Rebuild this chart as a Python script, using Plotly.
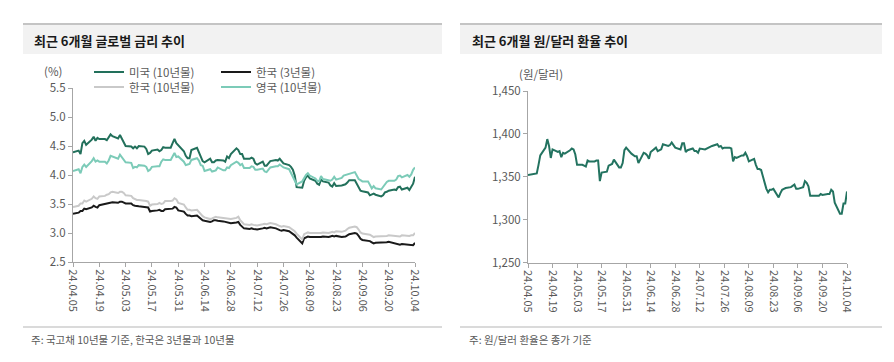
import pandas as pd
import plotly.graph_objects as go

W, H = 894, 362

# ---------------- data ----------------
dates = pd.bdate_range("2024-04-05", "2024-10-04")

tick_labels = ["24.04.05", "24.04.19", "24.05.03", "24.05.17", "24.05.31", "24.06.14", "24.06.28",
               "24.07.12", "24.07.26", "24.08.09", "24.08.23", "24.09.06", "24.09.20", "24.10.04"]

us_10y = [4.39,
          4.42, 4.36, 4.55, 4.59, 4.52,
          4.61, 4.66, 4.59, 4.64, 4.62,
          4.62, 4.60, 4.65, 4.70, 4.67,
          4.63, 4.69, 4.63, 4.58, 4.50,
          4.49, 4.46, 4.49, 4.46, 4.50,
          4.49, 4.45, 4.36, 4.38, 4.42,
          4.44, 4.41, 4.43, 4.48, 4.47,
          4.47, 4.55, 4.62, 4.55, 4.51,
          4.41, 4.33, 4.29, 4.29, 4.43,
          4.47, 4.40, 4.31, 4.24, 4.22,
          4.28, 4.22, 4.22, 4.25, 4.26,
          4.25, 4.23, 4.32, 4.29, 4.36,
          4.46, 4.43, 4.36, 4.36, 4.28,
          4.28, 4.30, 4.28, 4.20, 4.18,
          4.23, 4.16, 4.16, 4.20, 4.24,
          4.26, 4.25, 4.28, 4.24, 4.20,
          4.17, 4.14, 4.09, 3.99, 3.79,
          3.78, 3.90, 3.96, 3.99, 3.94,
          3.90, 3.85, 3.83, 3.92, 3.89,
          3.87, 3.82, 3.80, 3.86, 3.81,
          3.82, 3.83, 3.84, 3.87, 3.91,
          3.91, 3.84, 3.77, 3.73, 3.72,
          3.70, 3.65, 3.66, 3.68, 3.66,
          3.63, 3.65, 3.70, 3.71, 3.73,
          3.75, 3.74, 3.79, 3.80, 3.75,
          3.78, 3.74, 3.79, 3.85, 3.97]

kr_3y = [3.33,
         3.35, 3.38, 3.38, 3.42, 3.41,
         3.44, 3.47, 3.45, 3.44, 3.48,
         3.50, 3.51, 3.52, 3.53, 3.53,
         3.52, 3.54, 3.54, 3.53, 3.51,
         3.51, 3.48, 3.47, 3.46, 3.46,
         3.45, 3.44, 3.44, 3.37, 3.38,
         3.39, 3.40, 3.38, 3.38, 3.41,
         3.41, 3.42, 3.45, 3.44, 3.39,
         3.37, 3.33, 3.30, 3.30, 3.29,
         3.30, 3.27, 3.25, 3.22, 3.21,
         3.19, 3.20, 3.22, 3.22, 3.21,
         3.20, 3.19, 3.19, 3.18, 3.17,
         3.18, 3.19, 3.14, 3.11, 3.08,
         3.07, 3.08, 3.07, 3.07, 3.06,
         3.08, 3.09, 3.08, 3.09, 3.10,
         3.08, 3.06, 3.05, 3.04, 3.05,
         3.03, 3.01, 2.99, 2.96, 2.92,
         2.82, 2.91, 2.93, 2.94, 2.93,
         2.93, 2.92, 2.93, 2.93, 2.94,
         2.93, 2.94, 2.95, 2.94, 2.95,
         2.93, 2.93, 2.94, 2.96, 2.98,
         3.00, 2.99, 2.95, 2.90, 2.88,
         2.87, 2.86, 2.84, 2.82, 2.83,
         2.83, 2.83, 2.83, 2.84, 2.85,
         2.83, 2.82, 2.81, 2.80, 2.81,
         2.80, 2.80, 2.79, 2.79, 2.83]

kr_10y = [3.45,
          3.47, 3.51, 3.51, 3.56, 3.54,
          3.59, 3.63, 3.60, 3.59, 3.63,
          3.64, 3.66, 3.67, 3.70, 3.71,
          3.69, 3.71, 3.71, 3.69, 3.65,
          3.64, 3.60, 3.58, 3.57, 3.57,
          3.56, 3.55, 3.54, 3.47, 3.49,
          3.50, 3.52, 3.50, 3.51, 3.55,
          3.55, 3.56, 3.60, 3.58, 3.52,
          3.49, 3.44, 3.40, 3.40, 3.39,
          3.40, 3.36, 3.33, 3.29, 3.27,
          3.24, 3.25, 3.27, 3.28, 3.27,
          3.26, 3.25, 3.25, 3.24, 3.24,
          3.26, 3.28, 3.22, 3.18, 3.15,
          3.14, 3.15, 3.14, 3.14, 3.13,
          3.15, 3.16, 3.15, 3.16, 3.17,
          3.15, 3.13, 3.12, 3.11, 3.12,
          3.10, 3.08, 3.06, 3.03, 2.99,
          2.89, 2.98, 3.00, 3.01, 3.00,
          3.00, 2.99, 3.00, 3.00, 3.01,
          3.00, 3.01, 3.02, 3.01, 3.03,
          3.02, 3.03, 3.04, 3.07, 3.09,
          3.11, 3.10, 3.06, 3.01, 2.99,
          2.98, 2.97, 2.95, 2.93, 2.94,
          2.94, 2.94, 2.94, 2.95, 2.96,
          2.95, 2.95, 2.95, 2.94, 2.96,
          2.95, 2.95, 2.96, 2.96, 3.00]

uk_10y = [4.07,
          4.10, 4.03, 4.14, 4.18, 4.14,
          4.24, 4.29, 4.23, 4.25, 4.23,
          4.23, 4.20, 4.25, 4.33, 4.32,
          4.28, 4.35, 4.31, 4.26, 4.22,
          4.21, 4.12, 4.14, 4.13, 4.17,
          4.16, 4.14, 4.07, 4.09, 4.14,
          4.15, 4.15, 4.23, 4.27, 4.26,
          4.26, 4.32, 4.38, 4.31, 4.32,
          4.23, 4.17, 4.18, 4.19, 4.26,
          4.29, 4.25, 4.17, 4.16, 4.07,
          4.10, 4.06, 4.07, 4.08, 4.13,
          4.08, 4.08, 4.13, 4.12, 4.17,
          4.23, 4.21, 4.17, 4.19, 4.12,
          4.12, 4.15, 4.14, 4.09, 4.09,
          4.11, 4.06, 4.05, 4.09, 4.13,
          4.15, 4.15, 4.18, 4.15, 4.13,
          4.10, 4.03, 3.97, 3.92, 3.84,
          3.89, 3.96, 4.00, 4.03, 3.99,
          3.94, 3.90, 3.89, 3.98, 3.93,
          3.91, 3.90, 3.92, 3.97, 3.92,
          3.95, 3.99, 4.00, 4.01, 4.02,
          4.05, 3.99, 3.93, 3.91, 3.89,
          3.89, 3.82, 3.77, 3.81, 3.77,
          3.75, 3.79, 3.85, 3.88, 3.90,
          3.90, 3.92, 3.98, 3.99, 3.96,
          4.00, 3.97, 4.01, 4.09, 4.13]

usdkrw = [1352,
          1353, 1354, 1354, 1364, 1375,
          1384, 1394, 1386, 1372, 1382,
          1379, 1380, 1373, 1378, 1377,
          1381, 1383, 1382, 1376, 1364,
          1364, 1363, 1362, 1369, 1368,
          1368, 1369, 1369, 1345, 1355,
          1356, 1363, 1364, 1365, 1370,
          1361, 1361, 1366, 1381, 1384,
          1377, 1375, 1374, 1374, 1366,
          1378, 1377, 1375, 1371, 1379,
          1384, 1380, 1381, 1382, 1388,
          1386, 1387, 1390, 1387, 1384,
          1382, 1389, 1389, 1379, 1381,
          1383, 1380, 1380, 1378, 1383,
          1382, 1383, 1384, 1385, 1386,
          1388, 1385, 1386, 1383, 1384,
          1384, 1383, 1368, 1373, 1372,
          1375, 1375, 1378, 1374, 1368,
          1371, 1364, 1359, 1359, 1358,
          1336, 1332, 1335, 1335, 1336,
          1326, 1331, 1335, 1336, 1337,
          1338, 1340, 1341, 1336, 1336,
          1338, 1345, 1343, 1339, 1328,
          1328, 1328, 1328, 1330, 1329,
          1330, 1330, 1335, 1333, 1320,
          1307, 1307, 1319, 1319, 1333]

series_names = ["미국 (10년물)", "한국 (3년물)", "한국 (10년물)", "영국 (10년물)"]

# ---------------- styling ----------------
FONT = "Noto Sans CJK KR, Noto Sans, sans-serif"
GRAY = "#595959"
AXIS = "#a6a6a6"
C_US = "#22705b"
C_KR3 = "#1a1a1a"
C_KR10 = "#c9c9c9"
C_UK = "#7ccbb8"
C_FX = "#237360"


def px(x):
    return x / W


def py(y):
    return 1 - y / H


tick_vals = [pd.to_datetime("20" + t, format="%Y.%m.%d") for t in tick_labels]

fig = go.Figure()
fig.add_trace(go.Scatter(x=dates, y=us_10y, name=series_names[0], mode="lines",
                         line=dict(color=C_US, width=2), legend="legend", xaxis="x", yaxis="y"))
fig.add_trace(go.Scatter(x=dates, y=kr_3y, name=series_names[1], mode="lines",
                         line=dict(color=C_KR3, width=2), legend="legend", xaxis="x", yaxis="y"))
fig.add_trace(go.Scatter(x=dates, y=kr_10y, name=series_names[2], mode="lines",
                         line=dict(color=C_KR10, width=2), legend="legend2", xaxis="x", yaxis="y"))
fig.add_trace(go.Scatter(x=dates, y=uk_10y, name=series_names[3], mode="lines",
                         line=dict(color=C_UK, width=2), legend="legend2", xaxis="x", yaxis="y"))
fig.add_trace(go.Scatter(x=dates, y=usdkrw, name="원/달러", mode="lines", showlegend=False,
                         line=dict(color=C_FX, width=2), xaxis="x2", yaxis="y2"))

xcommon = dict(type="date", range=[dates[0], dates[-1]], tickvals=tick_vals, ticktext=tick_labels,
               tickangle=90, showline=True, linecolor=AXIS, linewidth=1, ticks="outside",
               ticklen=4, tickcolor=AXIS, showgrid=False, zeroline=False, automargin=False,
               tickfont=dict(size=11, color=GRAY, family=FONT))
ycommon = dict(showline=True, linecolor=AXIS, linewidth=1, ticks="outside", ticklen=4,
               tickcolor=AXIS, showgrid=False, zeroline=False, automargin=False,
               tickfont=dict(size=11.5, color=GRAY, family=FONT))

leg = dict(orientation="h", xanchor="left", yanchor="middle", bgcolor="rgba(0,0,0,0)",
           font=dict(size=11.5, color=GRAY, family=FONT), entrywidthmode="pixels",
           entrywidth=82, itemwidth=30, tracegroupgap=0)

fig.update_layout(
    width=W, height=H, margin=dict(l=0, r=0, t=0, b=0, pad=0, autoexpand=False),
    paper_bgcolor="white", plot_bgcolor="white",
    font=dict(family=FONT, color=GRAY),
    xaxis=dict(domain=[px(73), px(415)], anchor="y", **xcommon),
    yaxis=dict(domain=[py(262), py(88)], anchor="x", range=[2.5, 5.5], dtick=0.5,
               tickformat=".1f", **ycommon),
    xaxis2=dict(domain=[px(528), px(847)], anchor="y2", **xcommon),
    yaxis2=dict(domain=[py(262.7), py(91)], anchor="x2", range=[1250, 1450], dtick=50,
                tickformat=",", **ycommon),
    legend=dict(x=px(89), y=py(72), **leg),
    legend2=dict(x=px(89), y=py(87), **leg),
    showlegend=True,
)

shapes = []
for x0, x1 in [(23, 442), (460, 882)]:
    shapes.append(dict(type="rect", xref="paper", yref="paper", x0=px(x0), x1=px(x1),
                       y0=py(54), y1=py(24), fillcolor="#f2f2f2", line=dict(width=0), layer="below"))
    shapes.append(dict(type="line", xref="paper", yref="paper", x0=px(x0), x1=px(x1),
                       y0=py(24), y1=py(24), line=dict(color="#c4c4c4", width=2)))
    shapes.append(dict(type="line", xref="paper", yref="paper", x0=px(x0), x1=px(x1),
                       y0=py(327), y1=py(327), line=dict(color="#b5b5b5", width=1)))
fig.update_layout(shapes=shapes)

ann = [
    dict(text="<b>최근 6개월 글로벌 금리 추이</b>", x=px(32), y=py(41), size=13, color="#1a1a1a", xa="left"),
    dict(text="<b>최근 6개월 원/달러 환율 추이</b>", x=px(470), y=py(41), size=13, color="#1a1a1a", xa="left"),
    dict(text="(%)", x=px(53), y=py(71), size=11.5, color=GRAY, xa="center"),
    dict(text="(원/달러)", x=px(541), y=py(74), size=11.5, color=GRAY, xa="center"),
    dict(text="주: 국고채 10년물 기준, 한국은 3년물과 10년물", x=px(29), y=py(339), size=10.5, color=GRAY, xa="left"),
    dict(text="주: 원/달러 환율은 종가 기준", x=px(467), y=py(339), size=10.5, color=GRAY, xa="left"),
]
fig.update_layout(annotations=[
    dict(text=a["text"], x=a["x"], y=a["y"], xref="paper", yref="paper", showarrow=False,
         xanchor=a["xa"], yanchor="middle", font=dict(size=a["size"], color=a["color"], family=FONT))
    for a in ann
])

fig.write_html("out.html", config={"displayModeBar": False, "staticPlot": True},
               post_script="document.body.style.margin='0';document.body.style.overflow='hidden';")
